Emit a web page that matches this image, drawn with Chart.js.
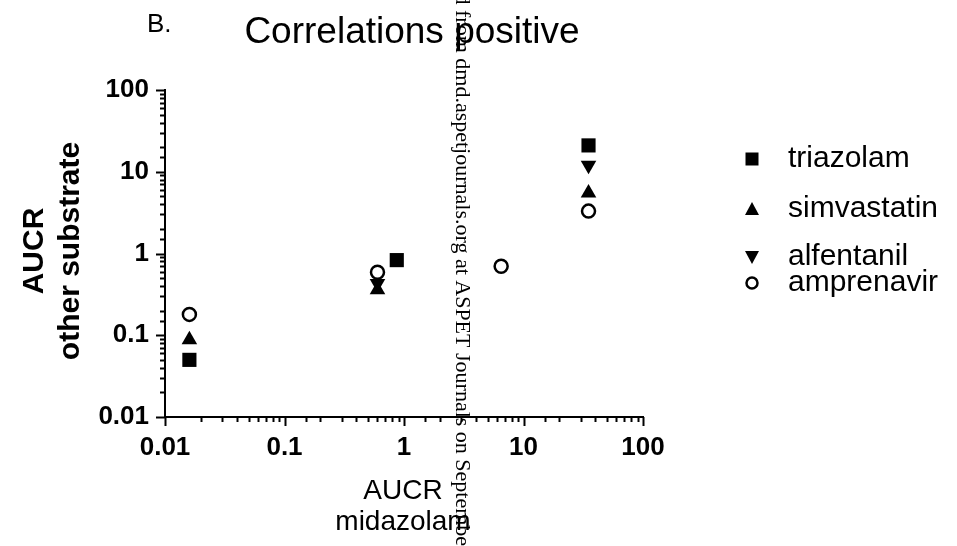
<!DOCTYPE html>
<html>
<head>
<meta charset="utf-8">
<script src="https://cdn.jsdelivr.net/npm/chart.js@4"></script>
<style>
  html, body { margin: 0; padding: 0; background: #fff; }
  canvas { display: block; }
</style>
</head>
<body>
<canvas id="corrChart" width="957" height="546"></canvas>
<script>
// values (AUCR midazolam vs AUCR other substrate)
const seriesNames = ['triazolam', 'simvastatin', 'alfentanil', 'amprenavir'];
const triazolamX = [0.016, 0.87, 35];
const triazolamY = [0.05, 0.83, 21];
const simvastatinX = [0.016, 0.6, 35];
const simvastatinY = [0.088, 0.36, 5.5];
const alfentanilX = [0.6, 35];
const alfentanilY = [0.43, 12];
const amprenavirX = [0.016, 0.6, 6.5, 35];
const amprenavirY = [0.18, 0.59, 0.70, 3.3];
const decadeTicks = [0.01, 0.1, 1, 10, 100];

const FONT = "'Liberation Sans', Arial, sans-serif";

function pts(xs, ys) {
    return xs.map((v, i) => ({ x: v, y: ys[i] }));
}

function isDecade(v) {
    const l = Math.log10(v);
    return Math.abs(l - Math.round(l)) < 1e-6;
}

function decadeLabel(v) {
    if (!isDecade(v)) return '';
    const hit = decadeTicks.find(t => Math.abs(t - v) / t < 1e-6);
    return hit !== undefined ? String(hit) : '';
}

// small marker drawer for the legend
function drawMarker(ctx, style, x, y) {
    ctx.save();
    ctx.fillStyle = '#000';
    ctx.strokeStyle = '#000';
    ctx.beginPath();
    if (style === 'rect') {
        ctx.rect(x - 6.5, y - 6.5, 13, 13);
        ctx.fill();
    } else if (style === 'triangle') {
        ctx.moveTo(x, y - 7);
        ctx.lineTo(x + 7, y + 6);
        ctx.lineTo(x - 7, y + 6);
        ctx.closePath();
        ctx.fill();
    } else if (style === 'triangleDown') {
        ctx.moveTo(x - 7, y - 6);
        ctx.lineTo(x + 7, y - 6);
        ctx.lineTo(x, y + 7);
        ctx.closePath();
        ctx.fill();
    } else {
        ctx.fillStyle = '#fff';
        ctx.lineWidth = 2.5;
        ctx.arc(x, y, 5.5, 0, Math.PI * 2);
        ctx.fill();
        ctx.stroke();
    }
    ctx.restore();
}

const decorations = {
    id: 'decorations',
    afterDraw(chart) {
        const ctx = chart.ctx;
        const xs = chart.scales.x;
        const ys = chart.scales.y;
        const area = chart.chartArea;
        ctx.save();

        // tick marks (major long, minor short)
        ctx.strokeStyle = '#000';
        ctx.lineWidth = 2;
        ys.ticks.forEach(t => {
            const py = Math.round(ys.getPixelForValue(t.value)) + 0.5;
            const len = isDecade(t.value) ? 9 : 5;
            ctx.beginPath();
            ctx.moveTo(area.left - len, py);
            ctx.lineTo(area.left, py);
            ctx.stroke();
        });
        xs.ticks.forEach(t => {
            const px = Math.round(xs.getPixelForValue(t.value)) + 0.5;
            const len = isDecade(t.value) ? 9 : 5;
            ctx.beginPath();
            ctx.moveTo(px, area.bottom);
            ctx.lineTo(px, area.bottom + len);
            ctx.stroke();
        });

        ctx.fillStyle = '#000';

        // panel letter and title
        ctx.textAlign = 'left';
        ctx.textBaseline = 'alphabetic';
        ctx.font = '26px ' + FONT;
        ctx.fillText('B.', 147, 32);
        ctx.textAlign = 'center';
        ctx.font = '37px ' + FONT;
        ctx.fillText('Correlations positive', 412, 43);

        // y axis title
        ctx.save();
        ctx.translate(0, 251);
        ctx.rotate(-Math.PI / 2);
        ctx.font = 'bold 30px ' + FONT;
        ctx.textBaseline = 'middle';
        ctx.fillText('AUCR', 0, 35);
        ctx.fillText('other substrate', 0, 71);
        ctx.restore();

        // x axis title
        ctx.font = '28px ' + FONT;
        ctx.textBaseline = 'middle';
        ctx.fillText('AUCR', 403, 491);
        ctx.fillText('midazolam', 403, 522);

        // legend
        const legendStyles = ['rect', 'triangle', 'triangleDown', 'circle'];
        const legendRows = [159, 209, 257, 283];
        ctx.textAlign = 'left';
        ctx.font = '30px ' + FONT;
        seriesNames.forEach((name, i) => {
            drawMarker(ctx, legendStyles[i], 752, legendRows[i]);
            ctx.fillText(name, 788, legendRows[i]);
        });

        // download watermark running down the page
        ctx.font = '22px "Liberation Serif", "Times New Roman", serif';
        const wm = 'Downloaded from dmd.aspetjournals.org at ASPET Journals on September 2, 2024';
        const lead = ctx.measureText('Downloaded ').width;
        ctx.save();
        ctx.translate(456, 10 - lead);
        ctx.rotate(Math.PI / 2);
        ctx.textAlign = 'left';
        ctx.textBaseline = 'alphabetic';
        ctx.fillText(wm, 0, 0);
        ctx.restore();

        ctx.restore();
    }
};

const tickFont = { family: FONT, size: 26, weight: 'bold' };

const config = {
    type: 'scatter',
    data: {
        datasets: [
            {
                label: seriesNames[0],
                data: pts(triazolamX, triazolamY),
                pointStyle: 'rect',
                pointRadius: 10,
                backgroundColor: '#000',
                borderColor: '#000',
                borderWidth: 0
            },
            {
                label: seriesNames[1],
                data: pts(simvastatinX, simvastatinY),
                pointStyle: 'triangle',
                pointRadius: 9,
                backgroundColor: '#000',
                borderColor: '#000',
                borderWidth: 0
            },
            {
                label: seriesNames[2],
                data: pts(alfentanilX, alfentanilY),
                pointStyle: 'triangle',
                pointRotation: 180,
                pointRadius: 9,
                backgroundColor: '#000',
                borderColor: '#000',
                borderWidth: 0
            },
            {
                label: seriesNames[3],
                data: pts(amprenavirX, amprenavirY),
                pointStyle: 'circle',
                pointRadius: 6.5,
                backgroundColor: '#fff',
                borderColor: '#000',
                borderWidth: 2.5
            }
        ]
    },
    options: {
        responsive: false,
        devicePixelRatio: 1,
        animation: false,
        events: [],
        layout: { padding: { left: 0, top: 90, right: 314, bottom: 0 } },
        plugins: {
            legend: { display: false },
            tooltip: { enabled: false },
            title: { display: false }
        },
        scales: {
            x: {
                type: 'logarithmic',
                min: 0.01,
                max: 100,
                grid: { display: false },
                border: { display: true, color: '#000', width: 2 },
                ticks: {
                    color: '#000',
                    font: tickFont,
                    padding: 7,
                    autoSkip: false,
                    maxRotation: 0,
                    callback: (v) => decadeLabel(v)
                },
                afterFit: (scale) => { scale.height = 129; }
            },
            y: {
                type: 'logarithmic',
                min: 0.01,
                max: 100,
                grid: { display: false },
                border: { display: true, color: '#000', width: 2 },
                ticks: {
                    color: '#000',
                    font: tickFont,
                    padding: 8,
                    autoSkip: false,
                    callback: (v) => decadeLabel(v)
                },
                afterFit: (scale) => { scale.width = 165; }
            }
        }
    },
    plugins: [decorations]
};

const corrChart = new Chart(document.getElementById('corrChart'), config);
</script>
</body>
</html>
